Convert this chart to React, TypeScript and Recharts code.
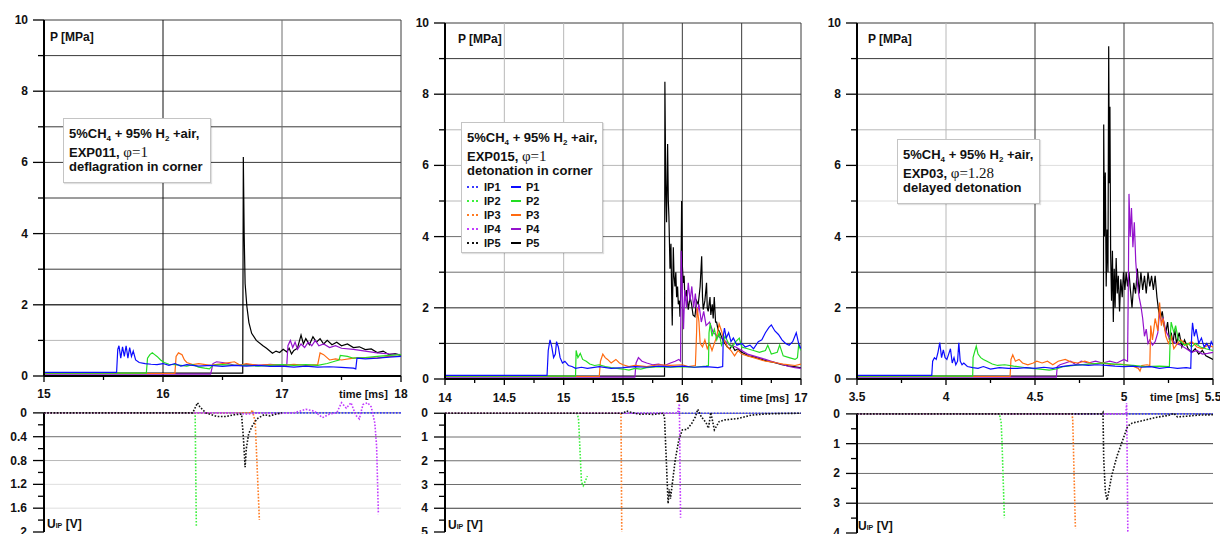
import { LineChart, Line, XAxis, YAxis, ReferenceLine } from "recharts";

type Pt = [number, number];

const FONT = '"Liberation Sans", Arial, Helvetica, sans-serif';
const SERIF = '"Liberation Serif", "Times New Roman", serif';
const INK = "#111";

// probe colours: P = pressure gauge (solid), IP = ion probe (dotted)
const probeNames = ["1", "2", "3", "4", "5"];
const pColors = ["#0c0cff", "#22dd22", "#ff6a10", "#9412cc", "#000000"];
const ipColors = ["#3a3aff", "#3cf03c", "#ff7b22", "#c23cff", "#111111"];

// pressure axis, shared by all three experiments
const pressureTicks = [0, 1, 2, 3, 4, 5, 6, 7, 8, 9, 10];
const pressureLabels = [0, 2, 4, 6, 8, 10];

// ---------------- EXP011, deflagration in corner ----------------
const exp011Ticks = [15, 15.5, 16, 16.5, 17, 17.5, 18];
const exp011Major = [15, 16, 17, 18];
const exp011Labels = [15, 16, 17, 18];
const exp011IonTicks = [0, 0.2, 0.4, 0.6, 0.8, 1, 1.2, 1.4, 1.6, 1.8, 2];
const exp011IonLabels = [0, 0.4, 0.8, 1.2, 1.6, 2];

const exp011P1: Pt[] = [
  [15, 0.1], [15.61, 0.1], [15.62, 0.75], [15.63, 0.85], [15.645, 0.5], [15.66, 0.82], [15.675, 0.55],
  [15.69, 0.85], [15.705, 0.5], [15.72, 0.8], [15.735, 0.55], [15.75, 0.7], [15.77, 0.45], [15.8, 0.38],
  [15.85, 0.35], [15.9, 0.33], [15.95, 0.32], [16.0, 0.35], [16.05, 0.3], [16.1, 0.35], [16.15, 0.28],
  [16.2, 0.32], [16.3, 0.28], [16.4, 0.3], [16.5, 0.27], [16.6, 0.3], [16.7, 0.28], [16.8, 0.3],
  [16.9, 0.27], [17.0, 0.28], [17.1, 0.25], [17.2, 0.28], [17.3, 0.25], [17.4, 0.26], [17.5, 0.24],
  [17.6, 0.22], [17.62, 0.2], [17.63, 0.5], [17.7, 0.48], [17.8, 0.5], [17.9, 0.53], [18.0, 0.55],
];
const exp011P2: Pt[] = [
  [15, 0.08], [15.86, 0.08], [15.87, 0.5], [15.89, 0.6], [15.91, 0.65], [15.93, 0.6], [15.95, 0.55],
  [15.98, 0.45], [16.01, 0.38], [16.05, 0.33], [16.1, 0.32], [16.15, 0.3], [16.2, 0.28], [16.25, 0.32],
  [16.3, 0.25], [16.35, 0.22], [16.39, 0.2], [16.42, 0.3], [16.5, 0.32], [16.6, 0.3], [16.7, 0.3],
  [16.8, 0.28], [16.9, 0.3], [17.0, 0.32], [17.1, 0.3], [17.2, 0.32], [17.3, 0.3], [17.38, 0.35],
  [17.45, 0.42], [17.48, 0.45], [17.49, 0.58], [17.55, 0.55], [17.6, 0.5], [17.7, 0.52], [17.8, 0.55],
  [17.9, 0.58], [18, 0.6],
];
const exp011P3: Pt[] = [
  [15, 0.07], [16.1, 0.07], [16.11, 0.55], [16.13, 0.65], [16.16, 0.6], [16.18, 0.45], [16.2, 0.38],
  [16.25, 0.32], [16.3, 0.35], [16.4, 0.3], [16.5, 0.35], [16.6, 0.4], [16.65, 0.3], [16.7, 0.35],
  [16.8, 0.3], [16.9, 0.32], [17.0, 0.3], [17.1, 0.33], [17.2, 0.3], [17.3, 0.32], [17.32, 0.65],
  [17.35, 0.6], [17.4, 0.45], [17.45, 0.48], [17.5, 0.45], [17.6, 0.5], [17.7, 0.52], [17.8, 0.5],
  [17.9, 0.55], [18, 0.55],
];
const exp011P4: Pt[] = [
  [15, 0.05], [16.4, 0.05], [16.42, 0.35], [16.45, 0.4], [16.5, 0.38], [16.55, 0.35], [16.6, 0.3],
  [16.7, 0.33], [16.8, 0.3], [16.9, 0.33], [17.0, 0.3], [17.04, 0.3], [17.05, 0.85], [17.07, 1.0],
  [17.09, 0.8], [17.11, 0.95], [17.13, 0.75], [17.16, 0.9], [17.19, 0.8], [17.22, 0.95], [17.25, 0.85],
  [17.28, 1.0], [17.31, 0.85], [17.35, 0.9], [17.4, 0.8], [17.45, 0.85], [17.5, 0.78], [17.6, 0.75],
  [17.7, 0.7], [17.8, 0.65], [17.9, 0.62], [18, 0.6],
];
const exp011P5: Pt[] = [
  [15, 0.08], [16.67, 0.08], [16.675, 6.15], [16.682, 4.0], [16.69, 2.6], [16.705, 1.95], [16.722, 1.5],
  [16.745, 1.2], [16.784, 1.0], [16.84, 0.85], [16.87, 0.78], [16.92, 0.64], [16.95, 0.7], [16.98, 0.66],
  [17.01, 0.75], [17.04, 0.68], [17.06, 0.78], [17.08, 0.62], [17.1, 0.72], [17.13, 0.78], [17.16, 1.15],
  [17.18, 0.9], [17.2, 1.05], [17.23, 0.88], [17.26, 1.1], [17.29, 0.95], [17.32, 1.05], [17.35, 0.9],
  [17.38, 1.0], [17.42, 0.88], [17.46, 0.95], [17.5, 0.85], [17.55, 0.9], [17.6, 0.8], [17.65, 0.82],
  [17.7, 0.74], [17.75, 0.76], [17.8, 0.66], [17.85, 0.7], [17.9, 0.6], [17.95, 0.63], [18, 0.58],
];
const exp011IP1: Pt[] = [[15, 0], [18, 0]];
const exp011IP2: Pt[] = [[15, 0], [16.27, 0], [16.28, 1.9]];
const exp011IP3: Pt[] = [[15, 0], [16.74, 0], [16.75, -0.05], [16.775, 0.15], [16.81, 1.8]];
const exp011IP4: Pt[] = [
  [15, 0], [16.6, 0], [16.7, 0.02], [16.8, 0], [16.95, 0.01], [17.1, 0], [17.2, -0.06], [17.27, -0.03],
  [17.34, 0.08], [17.4, 0.02], [17.46, 0], [17.5, -0.17], [17.54, -0.08], [17.58, -0.17], [17.62, 0.04],
  [17.65, 0.1], [17.68, -0.14], [17.72, -0.17], [17.75, -0.1], [17.78, 0.17], [17.795, 0.56], [17.81, 1.7],
];
const exp011IP5: Pt[] = [
  [15, 0], [16.25, 0], [16.29, -0.17], [16.31, -0.1], [16.36, 0], [16.45, 0.06], [16.53, 0.06],
  [16.6, 0.03], [16.66, 0.02], [16.675, 0.4], [16.69, 0.91], [16.7, 0.6], [16.72, 0.35], [16.75, 0.22],
  [16.79, 0.1], [16.85, 0.03], [16.9, 0.05], [16.95, 0.02], [17.0, 0],
];

// ---------------- EXP015, detonation in corner ----------------
const exp015Ticks = [14, 14.25, 14.5, 14.75, 15, 15.25, 15.5, 15.75, 16, 16.25, 16.5, 16.75, 17];
const exp015Major = [14, 14.5, 15, 15.5, 16, 16.5, 17];
const exp015Labels = [14, 14.5, 15, 15.5, 16, 17];
const exp015IonTicks = [0, 0.5, 1, 1.5, 2, 2.5, 3, 3.5, 4, 4.5, 5];
const exp015IonLabels = [0, 1, 2, 3, 4, 5];

const exp015P1: Pt[] = [
  [14, 0.1], [14.86, 0.1], [14.87, 0.8], [14.885, 1.1], [14.9, 0.9], [14.915, 0.6], [14.93, 0.7],
  [14.94, 1.05], [14.955, 0.9], [14.97, 0.6], [14.99, 0.45], [15.01, 0.5], [15.04, 0.38], [15.07, 0.35],
  [15.1, 0.3], [15.15, 0.33], [15.2, 0.3], [15.3, 0.35], [15.4, 0.3], [15.5, 0.32], [15.6, 0.35],
  [15.7, 0.33], [15.8, 0.36], [15.9, 0.34], [16.0, 0.36], [16.1, 0.33], [16.2, 0.35], [16.3, 0.32],
  [16.34, 0.35], [16.345, 1.2], [16.355, 1.43], [16.37, 1.15], [16.39, 1.3], [16.41, 1.05], [16.43, 1.15],
  [16.46, 0.95], [16.5, 1.0], [16.53, 0.9], [16.57, 0.95], [16.6, 0.85], [16.64, 1.05], [16.67, 1.1],
  [16.7, 1.3], [16.73, 1.45], [16.75, 1.52], [16.78, 1.35], [16.81, 1.25], [16.84, 1.1], [16.87, 1.0],
  [16.9, 0.95], [16.93, 1.05], [16.96, 1.3], [16.98, 1.0], [17.0, 0.85],
];
const exp015P2: Pt[] = [
  [14, 0.08], [15.1, 0.08], [15.105, 0.8], [15.12, 0.6], [15.14, 0.72], [15.16, 0.55], [15.19, 0.5],
  [15.22, 0.42], [15.26, 0.38], [15.3, 0.4], [15.35, 0.35], [15.4, 0.32], [15.45, 0.3], [15.5, 0.28],
  [15.55, 0.25], [15.6, 0.3], [15.65, 0.28], [15.7, 0.32], [15.8, 0.35], [15.9, 0.33], [16.0, 0.35],
  [16.1, 0.33], [16.2, 0.36], [16.22, 0.38], [16.225, 1.3], [16.235, 1.57], [16.25, 1.2], [16.27, 1.4],
  [16.29, 1.1], [16.31, 1.3], [16.33, 0.95], [16.36, 1.2], [16.39, 1.0], [16.42, 0.9], [16.45, 1.05],
  [16.48, 1.15], [16.5, 0.9], [16.55, 0.85], [16.6, 0.8], [16.65, 0.75], [16.7, 0.8], [16.72, 0.95],
  [16.75, 0.7], [16.8, 0.75], [16.82, 0.95], [16.85, 0.65], [16.9, 0.6], [16.95, 0.55], [16.97, 0.6],
  [16.98, 0.95], [17.0, 0.8],
];
const exp015P3: Pt[] = [
  [14, 0.07], [15.3, 0.07], [15.31, 0.5], [15.33, 0.7], [15.35, 0.6], [15.37, 0.55], [15.4, 0.45],
  [15.42, 0.5], [15.44, 0.55], [15.47, 0.45], [15.5, 0.4], [15.55, 0.35], [15.6, 0.38], [15.7, 0.35],
  [15.8, 0.4], [15.9, 0.38], [16.0, 0.4], [16.05, 0.35], [16.11, 0.38], [16.12, 1.3], [16.125, 2.0],
  [16.14, 1.6], [16.15, 1.0], [16.17, 0.9], [16.19, 1.1], [16.21, 0.85], [16.23, 1.0], [16.25, 0.8],
  [16.27, 1.0], [16.29, 1.2], [16.31, 1.55], [16.33, 1.35], [16.35, 1.1], [16.38, 0.9], [16.41, 0.8],
  [16.44, 0.65], [16.47, 0.8], [16.5, 0.7], [16.55, 0.65], [16.6, 0.6], [16.65, 0.55], [16.7, 0.5],
  [16.75, 0.48], [16.8, 0.45], [16.85, 0.42], [16.9, 0.4], [16.95, 0.38], [17.0, 0.42],
];
const exp015P4: Pt[] = [
  [14, 0.05], [15.6, 0.05], [15.61, 0.45], [15.63, 0.6], [15.66, 0.5], [15.7, 0.45], [15.75, 0.4],
  [15.8, 0.42], [15.85, 0.38], [15.9, 0.45], [15.94, 0.5], [15.97, 0.55], [15.985, 0.5], [15.99, 3.6],
  [16.0, 2.4], [16.01, 1.4], [16.02, 2.5], [16.035, 2.0], [16.05, 2.7], [16.065, 2.2], [16.08, 2.6],
  [16.095, 2.0], [16.11, 2.4], [16.125, 1.8], [16.14, 2.1], [16.16, 1.6], [16.18, 1.9], [16.2, 1.5],
  [16.23, 1.6], [16.26, 1.3], [16.3, 1.2], [16.35, 1.1], [16.4, 0.95], [16.45, 0.9], [16.5, 0.8],
  [16.55, 0.7], [16.6, 0.65], [16.65, 0.6], [16.7, 0.55], [16.75, 0.5], [16.8, 0.45], [16.85, 0.4],
  [16.9, 0.35], [16.95, 0.32], [17.0, 0.3],
];
const exp015P5: Pt[] = [
  [14, 0.08], [15.85, 0.08], [15.853, 8.35], [15.86, 5.5], [15.867, 4.4], [15.876, 6.6], [15.882, 5.0],
  [15.887, 4.55], [15.896, 3.1], [15.904, 3.8], [15.91, 2.4], [15.915, 1.5], [15.924, 3.7], [15.93, 2.9],
  [15.938, 2.6], [15.945, 3.0], [15.952, 2.3], [15.96, 2.6], [15.966, 2.1], [15.975, 2.2], [15.98, 1.75],
  [15.988, 2.6], [15.994, 5.0], [16.0, 3.2], [16.008, 2.7], [16.015, 2.9], [16.022, 2.2], [16.035, 2.5],
  [16.05, 1.95], [16.065, 2.3], [16.078, 2.1], [16.09, 1.8], [16.106, 1.75], [16.12, 2.2], [16.134, 2.1],
  [16.15, 2.6], [16.163, 3.45], [16.17, 2.3], [16.176, 1.95], [16.19, 2.2], [16.204, 2.7], [16.21, 2.0],
  [16.218, 1.9], [16.233, 2.3], [16.24, 1.8], [16.252, 2.1], [16.26, 1.7], [16.269, 2.3], [16.28, 1.6],
  [16.289, 1.6], [16.3, 1.4], [16.317, 1.3], [16.34, 1.1], [16.359, 1.0], [16.38, 0.9], [16.401, 0.85],
  [16.42, 0.95], [16.443, 0.8], [16.47, 0.85], [16.5, 0.75], [16.53, 0.7], [16.555, 0.65], [16.6, 0.62],
  [16.64, 0.58], [16.668, 0.55], [16.72, 0.5], [16.78, 0.46], [16.84, 0.4], [16.892, 0.37], [16.94, 0.35],
  [16.99, 0.32], [17, 0.3],
];
const exp015IP1: Pt[] = [[14, 0], [17, 0]];
const exp015IP2: Pt[] = [[14, 0], [15.11, 0], [15.125, 0.2], [15.15, 2.9], [15.165, 3.05], [15.2, 2.65]];
const exp015IP3: Pt[] = [[14, 0], [15.483, 0], [15.49, 5.3]];
const exp015IP4: Pt[] = [[14, 0], [15.96, 0], [15.975, -0.4], [15.985, 4.4]];
const exp015IP5: Pt[] = [
  [14, 0], [15.5, 0], [15.53, -0.1], [15.56, -0.05], [15.6, 0], [15.65, 0.05], [15.7, 0.03],
  [15.75, 0.05], [15.84, 0], [15.85, 0.2], [15.88, 3.8], [15.89, 3.2], [15.9, 3.6], [15.94, 1.97],
  [15.97, 1.13], [16.0, 0.7], [16.04, 0.68], [16.08, 0.42], [16.11, 0.15], [16.13, -0.17], [16.16, 0.15],
  [16.2, 0.4], [16.22, 0.63], [16.24, -0.03], [16.27, 0.7], [16.31, 0.35], [16.36, 0.28], [16.47, 0.22],
  [16.58, 0.08], [16.7, 0.03], [16.85, 0.01], [17, 0],
];

// ---------------- EXP03, delayed detonation ----------------
const exp03Ticks = [3.5, 3.75, 4, 4.25, 4.5, 4.75, 5, 5.25, 5.5];
const exp03Major = [3.5, 4, 4.5, 5, 5.5];
const exp03Labels = [3.5, 4, 4.5, 5, 5.5];
const exp03IonTicks = [0, 0.5, 1, 1.5, 2, 2.5, 3, 3.5, 4];
const exp03IonLabels = [0, 1, 2, 3, 4];

const exp03P1: Pt[] = [
  [3.5, 0.1], [3.92, 0.1], [3.925, 0.5], [3.935, 0.6], [3.945, 0.55], [3.955, 0.75], [3.965, 1.02],
  [3.975, 0.6], [3.985, 0.82], [3.995, 0.6], [4.005, 0.55], [4.015, 0.7], [4.025, 0.85], [4.035, 0.45],
  [4.045, 0.6], [4.055, 0.4], [4.065, 0.5], [4.072, 1.02], [4.08, 0.5], [4.09, 0.4], [4.1, 0.45],
  [4.12, 0.35], [4.15, 0.32], [4.18, 0.3], [4.21, 0.35], [4.25, 0.28], [4.3, 0.32], [4.35, 0.3],
  [4.4, 0.3], [4.45, 0.32], [4.5, 0.3], [4.55, 0.33], [4.6, 0.3], [4.65, 0.35], [4.7, 0.38], [4.75, 0.4],
  [4.8, 0.38], [4.85, 0.4], [4.9, 0.38], [4.95, 0.36], [5.0, 0.35], [5.05, 0.36], [5.1, 0.33],
  [5.15, 0.35], [5.2, 0.3], [5.25, 0.33], [5.3, 0.3], [5.35, 0.32], [5.375, 0.3], [5.38, 1.2],
  [5.385, 1.58], [5.395, 1.2], [5.405, 1.4], [5.42, 1.0], [5.435, 1.15], [5.45, 0.9], [5.465, 1.0],
  [5.48, 0.85], [5.49, 1.05], [5.5, 0.95],
];
const exp03P2: Pt[] = [
  [3.5, 0.08], [4.15, 0.08], [4.152, 0.6], [4.16, 0.75], [4.17, 0.92], [4.18, 0.7], [4.195, 0.6],
  [4.21, 0.55], [4.23, 0.5], [4.26, 0.42], [4.29, 0.38], [4.33, 0.4], [4.38, 0.36], [4.43, 0.33],
  [4.48, 0.3], [4.53, 0.28], [4.58, 0.25], [4.62, 0.28], [4.66, 0.35], [4.72, 0.38], [4.8, 0.42],
  [4.88, 0.45], [4.95, 0.42], [5.0, 0.4], [5.05, 0.38], [5.12, 0.35], [5.2, 0.36], [5.255, 0.35],
  [5.26, 1.2], [5.265, 1.6], [5.28, 1.3], [5.29, 1.5], [5.305, 1.1], [5.32, 1.05], [5.34, 0.95],
  [5.36, 1.0], [5.38, 0.9], [5.4, 1.0], [5.43, 0.9], [5.46, 0.85], [5.5, 0.8],
];
const exp03P3: Pt[] = [
  [3.5, 0.07], [4.36, 0.07], [4.365, 0.55], [4.375, 0.68], [4.39, 0.5], [4.41, 0.55], [4.43, 0.45],
  [4.46, 0.4], [4.49, 0.45], [4.51, 0.5], [4.54, 0.45], [4.57, 0.5], [4.6, 0.4], [4.63, 0.5],
  [4.67, 0.55], [4.7, 0.48], [4.74, 0.45], [4.78, 0.5], [4.83, 0.42], [4.88, 0.45], [4.93, 0.4],
  [4.98, 0.42], [5.04, 0.38], [5.08, 0.3], [5.09, 0.22], [5.1, 0.38], [5.13, 0.4], [5.145, 0.38],
  [5.15, 1.5], [5.16, 1.1], [5.175, 1.7], [5.19, 1.35], [5.2, 2.15], [5.21, 1.5], [5.22, 1.7],
  [5.235, 1.2], [5.25, 1.0], [5.265, 1.2], [5.28, 0.85], [5.3, 1.0], [5.32, 1.1], [5.35, 0.95],
  [5.38, 1.05], [5.41, 0.9], [5.44, 0.85], [5.47, 0.95], [5.5, 0.9],
];
const exp03P4: Pt[] = [
  [3.5, 0.05], [4.62, 0.05], [4.625, 0.35], [4.64, 0.4], [4.67, 0.45], [4.7, 0.5], [4.73, 0.4],
  [4.76, 0.5], [4.8, 0.45], [4.84, 0.5], [4.88, 0.45], [4.92, 0.5], [4.96, 0.45], [5.0, 0.55],
  [5.02, 0.5], [5.025, 3.0], [5.028, 5.2], [5.035, 4.0], [5.042, 4.8], [5.05, 3.7], [5.058, 4.4],
  [5.066, 3.3], [5.075, 2.7], [5.085, 2.3], [5.095, 2.05], [5.105, 1.7], [5.115, 1.2], [5.125, 1.4],
  [5.135, 1.0], [5.145, 1.1], [5.16, 0.95], [5.175, 1.05], [5.19, 1.3], [5.2, 1.9], [5.21, 1.6],
  [5.22, 1.7], [5.235, 1.35], [5.25, 1.2], [5.27, 1.1], [5.29, 1.0], [5.32, 0.95], [5.35, 0.85],
  [5.38, 0.75], [5.41, 0.8], [5.44, 0.7], [5.47, 0.72], [5.5, 0.75],
];
const exp03P5: Pt[] = [
  [3.5, 0.08], [4.884, 0.08], [4.886, 7.15], [4.89, 4.0], [4.895, 5.8], [4.9, 2.6], [4.905, 4.2],
  [4.91, 3.0], [4.914, 9.35], [4.918, 5.5], [4.921, 7.65], [4.925, 3.5], [4.93, 2.2], [4.935, 3.6],
  [4.94, 1.6], [4.945, 3.1], [4.95, 2.0], [4.956, 3.4], [4.962, 2.4], [4.968, 2.9], [4.975, 1.9],
  [4.982, 2.8], [4.99, 2.3], [4.997, 3.0], [5.005, 2.5], [5.012, 3.0], [5.02, 2.6], [5.028, 3.0],
  [5.036, 2.5], [5.045, 2.0], [5.055, 2.7], [5.065, 2.4], [5.075, 3.1], [5.085, 2.4], [5.095, 3.0],
  [5.105, 2.5], [5.115, 2.9], [5.125, 2.4], [5.135, 3.0], [5.145, 2.6], [5.155, 2.9], [5.165, 2.5],
  [5.175, 2.9], [5.185, 2.3], [5.195, 1.9], [5.205, 1.7], [5.215, 1.9], [5.225, 1.5], [5.235, 1.3],
  [5.245, 1.6], [5.255, 1.1], [5.265, 1.3], [5.275, 1.0], [5.285, 1.4], [5.295, 1.0], [5.31, 1.3],
  [5.325, 0.9], [5.34, 1.1], [5.36, 0.85], [5.38, 0.75], [5.4, 0.85], [5.42, 0.7], [5.44, 0.8],
  [5.46, 0.65], [5.48, 0.6], [5.5, 0.55],
];
const exp03IP1: Pt[] = [[3.5, 0], [5.5, 0]];
const exp03IP2: Pt[] = [[3.5, 0], [4.3, 0], [4.31, 0.3], [4.315, 1.0], [4.328, 3.5]];
const exp03IP3: Pt[] = [[3.5, 0], [4.708, 0], [4.712, 0.2], [4.727, 3.85]];
const exp03IP4: Pt[] = [[3.5, 0], [5.01, 0], [5.015, -0.36], [5.022, 4.3]];
const exp03IP5: Pt[] = [
  [3.5, 0], [4.875, 0], [4.882, -0.05], [4.886, 1.5], [4.895, 2.6], [4.905, 2.9], [4.93, 2.1],
  [4.96, 1.43], [4.99, 0.93], [5.02, 0.42], [5.045, 0.31], [5.11, 0.22], [5.185, 0.11], [5.25, 0.05],
  [5.28, -0.02], [5.3, 0.1], [5.35, 0.08], [5.42, 0.04], [5.5, 0.03],
];

// ---------------- helpers ----------------
const rows = (pts: Pt[]) => pts.map(([t, v]) => ({ t, v }));
const has = (list: number[], v: number) => list.some((x) => Math.abs(x - v) < 1e-9);

const tickText = { fontFamily: FONT, fontWeight: 700, fontSize: 12, fill: INK };

function timeTick(major: number[], labels: number[], dy: number) {
  return (props: any) => {
    const { x, y, payload } = props;
    const v = payload.value as number;
    return (
      <g>
        <line x1={x} y1={y} x2={x} y2={y + (has(major, v) ? 6 : 4)} stroke="#000" strokeWidth={1.3} />
        {has(labels, v) && (
          <text x={x} y={y + dy} textAnchor="middle" dominantBaseline="central" {...tickText}>
            {v}
          </text>
        )}
      </g>
    );
  };
}

function valueTick(labels: number[], dx: number) {
  return (props: any) => {
    const { x, y, payload } = props;
    const v = payload.value as number;
    const major = has(labels, v);
    return (
      <g>
        <line x1={x - (major ? 11 : 6)} y1={y} x2={x} y2={y} stroke="#000" strokeWidth={1.3} />
        {major && (
          <text x={x - dx} y={y} textAnchor="end" dominantBaseline="central" {...tickText}>
            {v}
          </text>
        )}
      </g>
    );
  };
}

interface TimeAxis {
  domain: [number, number];
  ticks: number[];
  major: number[];
  labels: number[];
}

interface PressureProps {
  left: number;
  width: number;
  axisWidth: number;
  top: number;
  time: TimeAxis;
  series: Pt[][];
  hGrid: string[]; // colour of the grid line at 1..10 MPa
  vGrid: [number, string][];
  labelDy: number;
}

function PressureChart({ left, width, axisWidth, top, time, series, hGrid, vGrid, labelDy }: PressureProps) {
  const plotH = 356;
  const plotW = 356 + (axisWidth === 44 ? 1 : 0);
  return (
    <div style={{ position: "absolute", left, top: 0 }}>
      <LineChart
        width={width}
        height={410}
        margin={{ top, right: width - axisWidth - plotW, bottom: 410 - top - plotH - 30, left: 0 }}
      >
        <XAxis
          type="number"
          dataKey="t"
          domain={time.domain}
          allowDataOverflow
          ticks={time.ticks}
          interval={0}
          tick={timeTick(time.major, time.labels, labelDy)}
          tickLine={false}
          tickSize={0}
          tickMargin={0}
          height={30}
          axisLine={{ stroke: "#000", strokeWidth: 2 }}
        />
        <YAxis
          type="number"
          dataKey="v"
          domain={[0, 10]}
          allowDataOverflow
          ticks={pressureTicks}
          interval={0}
          tick={valueTick(pressureLabels, 16)}
          tickLine={false}
          tickSize={0}
          tickMargin={0}
          width={axisWidth}
          axisLine={{ stroke: "#000", strokeWidth: 2 }}
        />
        {hGrid.map((c, i) => (
          <ReferenceLine key={`h${i}`} y={i + 1} stroke={c} strokeWidth={i === 1 ? 1.4 : 1} />
        ))}
        {vGrid.map(([x, c]) => (
          <ReferenceLine key={`v${x}`} x={x} stroke={c} strokeWidth={1} />
        ))}
        {/* gauge 5 underneath, gauge 1 on top */}
        {[4, 3, 2, 1, 0].map((i) => (
          <Line
            key={`p${i}`}
            data={rows(series[i])}
            dataKey="v"
            type="linear"
            stroke={pColors[i]}
            strokeWidth={1.2}
            dot={false}
            activeDot={false}
            isAnimationActive={false}
          />
        ))}
      </LineChart>
    </div>
  );
}

interface IonProps {
  left: number;
  width: number;
  axisWidth: number;
  top: number;
  plotH: number;
  timeDomain: [number, number];
  valueDomain: [number, number];
  ticks: number[];
  labels: number[];
  grid: [number, string][];
  series: Pt[][];
}

function IonChart({ left, width, axisWidth, top, plotH, timeDomain, valueDomain, ticks, labels, grid, series }: IonProps) {
  const plotW = 356 + (axisWidth === 44 ? 1 : 0);
  const height = 534 - top;
  return (
    <div style={{ position: "absolute", left, top }}>
      <LineChart
        width={width}
        height={height}
        margin={{ top: 0, right: width - axisWidth - plotW, bottom: height - plotH, left: 0 }}
      >
        <XAxis type="number" dataKey="t" domain={timeDomain} allowDataOverflow hide />
        <YAxis
          type="number"
          dataKey="v"
          reversed
          domain={valueDomain}
          allowDataOverflow
          ticks={ticks}
          interval={0}
          tick={valueTick(labels, 17)}
          tickLine={false}
          tickSize={0}
          tickMargin={0}
          width={axisWidth}
          axisLine={false}
        />
        {grid.map(([y, c]) => (
          <ReferenceLine key={`g${y}`} y={y} stroke={c} strokeWidth={1} />
        ))}
        <ReferenceLine
          segment={[
            { x: timeDomain[0], y: 0 },
            { x: timeDomain[0], y: valueDomain[1] },
          ]}
          stroke="#000"
          strokeWidth={2}
        />
        {[0, 1, 2, 3, 4].map((i) => (
          <Line
            key={`ip${i}`}
            data={rows(series[i])}
            dataKey="v"
            type="linear"
            stroke={ipColors[i]}
            strokeWidth={1.6}
            strokeDasharray="1.6 1.6"
            dot={false}
            activeDot={false}
            isAnimationActive={false}
          />
        ))}
      </LineChart>
    </div>
  );
}

const Sub = ({ children }: { children: string }) => (
  <span style={{ fontSize: 8, position: "relative", top: 3 }}>{children}</span>
);

function NoteBox(props: {
  left: number;
  top: number;
  width: number;
  height: number;
  exp: string;
  phi: string;
  regime: string;
  legend?: boolean;
}) {
  const { left, top, width, height, exp, phi, regime, legend } = props;
  return (
    <div
      style={{
        position: "absolute",
        left,
        top,
        width,
        height,
        boxSizing: "border-box",
        background: "#fff",
        border: "1px solid #c4c4c4",
        boxShadow: "1px 1px 1px rgba(0,0,0,0.12)",
        padding: "5px 0 0 5px",
        fontFamily: FONT,
        fontWeight: 700,
        fontSize: 13,
        color: INK,
        whiteSpace: "nowrap",
      }}
    >
      <div style={{ height: 20, lineHeight: "20px" }}>
        5%CH<Sub>4</Sub> + 95% H<Sub>2</Sub> +air,
      </div>
      <div style={{ height: 16, lineHeight: "16px" }}>
        {exp},{" "}
        <span style={{ fontFamily: SERIF, fontWeight: 400, fontSize: 15 }}>φ={phi}</span>
      </div>
      <div style={{ height: 14, lineHeight: "14px" }}>{regime}</div>
      {legend && (
        <div style={{ marginTop: 2, fontSize: 11 }}>
          {probeNames.map((n, i) => (
            <div key={n} style={{ position: "relative", height: 14, lineHeight: "14px" }}>
              <span
                style={{
                  position: "absolute",
                  left: 0,
                  top: 6,
                  width: 11,
                  borderTop: `2px dotted ${ipColors[i]}`,
                }}
              />
              <span style={{ position: "absolute", left: 17 }}>IP{n}</span>
              <span
                style={{ position: "absolute", left: 44, top: 6, width: 10, height: 2, background: pColors[i] }}
              />
              <span style={{ position: "absolute", left: 59 }}>P{n}</span>
            </div>
          ))}
        </div>
      )}
    </div>
  );
}

const labelStyle = {
  position: "absolute" as const,
  fontFamily: FONT,
  fontWeight: 700,
  fontSize: 12,
  lineHeight: "14px",
  color: INK,
  whiteSpace: "nowrap" as const,
};

function AxisTitles({ pLeft, pTop, uLeft, uTop, tLeft, tTop }: Record<string, number>) {
  return (
    <>
      <div style={{ ...labelStyle, left: pLeft, top: pTop }}>P [MPa]</div>
      <div style={{ ...labelStyle, left: uLeft, top: uTop }}>
        U<span style={{ fontSize: 7 }}>IP</span> [V]
      </div>
      <div style={{ ...labelStyle, fontSize: 11, left: tLeft, top: tTop, background: "#fff", padding: "0 1px" }}>
        time [ms]
      </div>
    </>
  );
}

const DARK = "#3a3a3a";
const MID = "#6e6e6e";
const LIGHT = "#b8b8b8";
const FAINT = "#dedede";

export default function App() {
  return (
    <div
      style={{
        position: "absolute",
        left: 0,
        top: 0,
        width: 1220,
        height: 534,
        overflow: "hidden",
        background: "#fff",
      }}
    >
      {/* EXP011 */}
      <PressureChart
        left={0}
        width={410}
        axisWidth={44}
        top={20}
        time={{ domain: [15, 18], ticks: exp011Ticks, major: exp011Major, labels: exp011Labels }}
        series={[exp011P1, exp011P2, exp011P3, exp011P4, exp011P5]}
        hGrid={[LIGHT, DARK, DARK, MID, DARK, DARK, DARK, DARK, DARK, DARK]}
        vGrid={[[16, "#111"], [17, MID], [18, DARK]]}
        labelDy={18}
      />
      <IonChart
        left={0}
        width={410}
        axisWidth={44}
        top={398}
        plotH={134}
        timeDomain={[15, 18]}
        valueDomain={[-0.25, 2]}
        ticks={exp011IonTicks}
        labels={exp011IonLabels}
        grid={[[0, MID], [0.4, MID], [0.8, LIGHT], [1.2, FAINT], [1.6, FAINT]]}
        series={[exp011IP1, exp011IP2, exp011IP3, exp011IP4, exp011IP5]}
      />
      <AxisTitles pLeft={50} pTop={30} uLeft={47} uTop={517} tLeft={338} tTop={387} />
      <NoteBox left={63} top={118} width={148} height={65} exp="EXP011" phi="1" regime="deflagration in corner" />

      {/* EXP015 */}
      <PressureChart
        left={405}
        width={410}
        axisWidth={40}
        top={23}
        time={{ domain: [14, 17], ticks: exp015Ticks, major: exp015Major, labels: exp015Labels }}
        series={[exp015P1, exp015P2, exp015P3, exp015P4, exp015P5]}
        hGrid={[DARK, MID, MID, MID, LIGHT, LIGHT, LIGHT, DARK, DARK, DARK]}
        vGrid={[[14.5, LIGHT], [15, LIGHT], [15.5, MID], [16, DARK], [16.5, DARK], [17, DARK]]}
        labelDy={19}
      />
      <IonChart
        left={405}
        width={410}
        axisWidth={40}
        top={399}
        plotH={133}
        timeDomain={[14, 17]}
        valueDomain={[-0.6, 5]}
        ticks={exp015IonTicks}
        labels={exp015IonLabels}
        grid={[[0, MID], [1, MID], [2, MID], [3, MID], [4, DARK]]}
        series={[exp015IP1, exp015IP2, exp015IP3, exp015IP4, exp015IP5]}
      />
      <AxisTitles pLeft={458} pTop={32} uLeft={448} uTop={518} tLeft={739} tTop={391} />
      <NoteBox
        left={461}
        top={122}
        width={142}
        height={131}
        exp="EXP015"
        phi="1"
        regime="detonation in corner"
        legend
      />

      {/* EXP03 */}
      <PressureChart
        left={815}
        width={405}
        axisWidth={42}
        top={23}
        time={{ domain: [3.5, 5.5], ticks: exp03Ticks, major: exp03Major, labels: exp03Labels }}
        series={[exp03P1, exp03P2, exp03P3, exp03P4, exp03P5]}
        hGrid={[DARK, MID, DARK, LIGHT, FAINT, FAINT, LIGHT, DARK, DARK, DARK]}
        vGrid={[[4, LIGHT], [4.5, DARK], [5, DARK], [5.5, MID]]}
        labelDy={18}
      />
      <IonChart
        left={815}
        width={405}
        axisWidth={42}
        top={399}
        plotH={134}
        timeDomain={[3.5, 5.5]}
        valueDomain={[-0.5, 4]}
        ticks={exp03IonTicks}
        labels={exp03IonLabels}
        grid={[[0, DARK], [1, DARK], [2, MID], [3, DARK]]}
        series={[exp03IP1, exp03IP2, exp03IP3, exp03IP4, exp03IP5]}
      />
      <AxisTitles pLeft={868} pTop={32} uLeft={858} uTop={519} tLeft={1149} tTop={390} />
      <NoteBox
        left={897}
        top={139}
        width={143}
        height={65}
        exp="EXP03"
        phi="1.28"
        regime="delayed detonation"
      />
    </div>
  );
}
